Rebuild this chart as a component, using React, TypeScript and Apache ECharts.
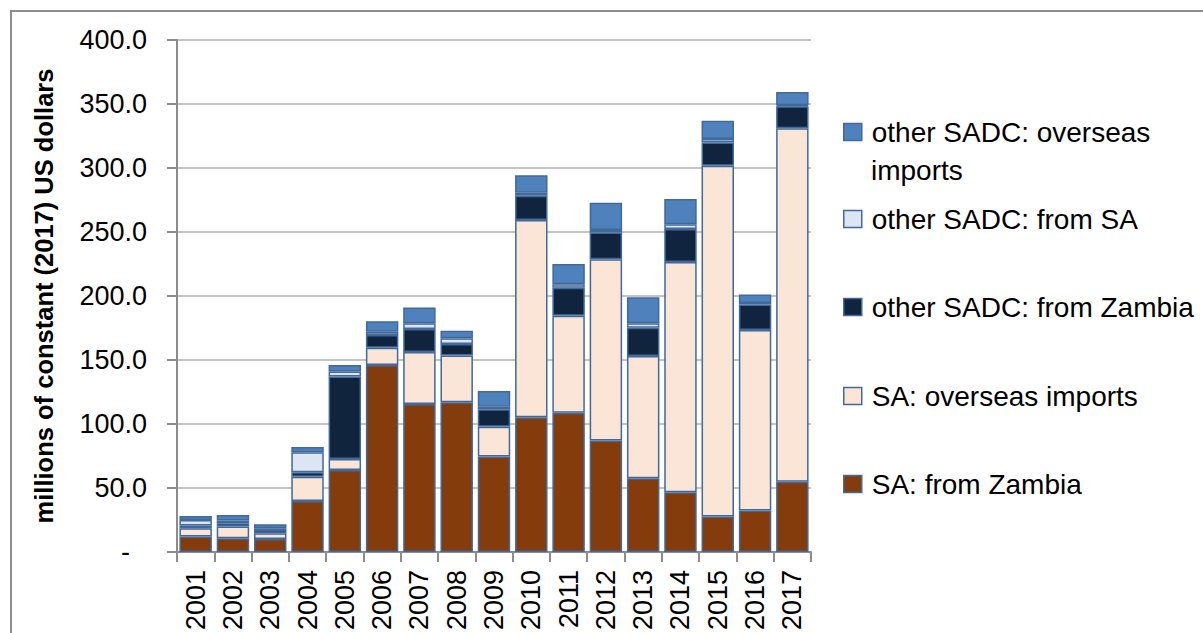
import React, { useEffect, useRef } from "react";
import * as echarts from "echarts";

const years = ["2001","2002","2003","2004","2005","2006","2007","2008","2009","2010","2011","2012","2013","2014","2015","2016","2017"];
const saFromZambia = [12.0, 10.7, 10.2, 39.8, 64.1, 146.0, 115.6, 117.0, 74.5, 105.2, 108.8, 87.0, 57.5, 46.6, 27.6, 32.3, 54.9];
const saOverseas = [6.5, 9.1, 4.4, 19.0, 8.6, 13.5, 40.6, 36.4, 23.4, 154.2, 75.8, 141.7, 95.6, 180.0, 274.2, 141.1, 276.1];
const otherFromZambia = [2.1, 2.6, 2.6, 3.5, 64.3, 10.0, 18.0, 9.1, 13.6, 19.0, 21.9, 20.8, 22.1, 25.7, 18.2, 19.9, 17.2];
const otherFromSA = [4.4, 2.1, 1.3, 15.6, 3.9, 2.5, 4.5, 4.5, 2.0, 2.3, 2.6, 2.1, 3.5, 3.7, 2.7, 1.2, 0.8];
const otherOverseas = [3.1, 4.4, 3.1, 4.1, 5.1, 8.3, 12.2, 5.9, 12.3, 13.6, 15.9, 21.3, 20.3, 19.8, 14.3, 6.7, 10.4];

const seriesNames = [
  "SA: from Zambia",
  "SA: overseas imports",
  "other SADC: from Zambia",
  "other SADC: from SA",
  "other SADC: overseas imports",
];
const seriesColors = ["#843C0C", "#FBE5D6", "#10243E", "#DCE6F2", "#4F81BD"];
const seriesData = [saFromZambia, saOverseas, otherFromZambia, otherFromSA, otherOverseas];
const legendCenters = [484, 396, 307, 219, 132];

const FONT = "'Liberation Sans', Arial, sans-serif";

export default function App() {
  const ref = useRef<HTMLDivElement>(null);
  useEffect(() => {
    if (!ref.current) return;
    const chart = echarts.init(ref.current, undefined, { renderer: "svg" });
    const legends = seriesNames.map((name, i) => ({
      show: true,
      data: [name],
      left: 843,
      top: legendCenters[i] - 17,
      padding: 0,
      itemWidth: 18,
      itemHeight: 17,
      selectedMode: false,
      icon: "rect",
      formatter: (n: string) => (n === "other SADC: overseas imports" ? "other SADC: overseas" : n),
      itemStyle: { borderColor: "#41699A", borderWidth: 1.5 },
      textStyle: {
        fontFamily: FONT,
        fontSize: 28,
        color: "#000",
        lineHeight: 34,
        padding: [0, 0, 0, 5],
      },
    }));
    chart.setOption({
      animation: false,
      backgroundColor: "#fff",
      textStyle: { fontFamily: FONT },
      grid: { left: 177, top: 40, right: 392, bottom: 81, containLabel: false },
      legend: legends,
      graphic: [
        {
          type: "rect",
          shape: { x: 11, y: 11, width: 1220, height: 660 },
          style: { fill: "none", stroke: "#8E8E8E", lineWidth: 2 },
          silent: true,
        },
        {
          type: "text",
          left: 871,
          top: 170 - 17,
          style: { text: "imports", fontFamily: FONT, fontSize: 28, fill: "#000", lineHeight: 34 },
          silent: true,
        },
      ],
      xAxis: {
        type: "category",
        data: years,
        axisLine: { lineStyle: { color: "#8C8C8C", width: 2 } },
        axisTick: { show: true, length: 10, lineStyle: { color: "#8C8C8C", width: 2 } },
        axisLabel: {
          rotate: 90,
          margin: 18,
          fontFamily: FONT,
          fontSize: 27,
          color: "#000",
          interval: 0,
        },
      },
      yAxis: {
        type: "value",
        min: 0,
        max: 400,
        interval: 50,
        name: "millions of constant (2017) US dollars",
        nameLocation: "middle",
        nameRotate: 90,
        nameGap: 120,
        nameTextStyle: { fontFamily: FONT, fontSize: 25.5, fontWeight: "bold", color: "#000" },
        axisLine: { show: true, lineStyle: { color: "#8C8C8C", width: 2 } },
        axisTick: { show: true, length: 10, lineStyle: { color: "#8C8C8C", width: 2 } },
        splitLine: { lineStyle: { color: "#C4C4C4", width: 2 } },
        axisLabel: {
          margin: 30,
          fontFamily: FONT,
          fontSize: 27,
          color: "#000",
          formatter: (v: number) => (v === 0 ? "{z|-}" : v.toFixed(1)),
          rich: {
            z: { fontFamily: FONT, fontSize: 27, color: "#000", padding: [0, 17, 0, 0] },
          },
        },
      },
      series: seriesNames.map((name, i) => ({
        name,
        type: "bar",
        stack: "total",
        data: seriesData[i],
        barCategoryGap: "13%",
        itemStyle: { color: seriesColors[i], borderColor: "#41699A", borderWidth: 1.5 },
      })),
    });
    return () => chart.dispose();
  }, []);
  return (
    <div
      ref={ref}
      style={{ position: "absolute", left: 0, top: 0, width: 1203, height: 633, background: "#fff" }}
    />
  );
}
